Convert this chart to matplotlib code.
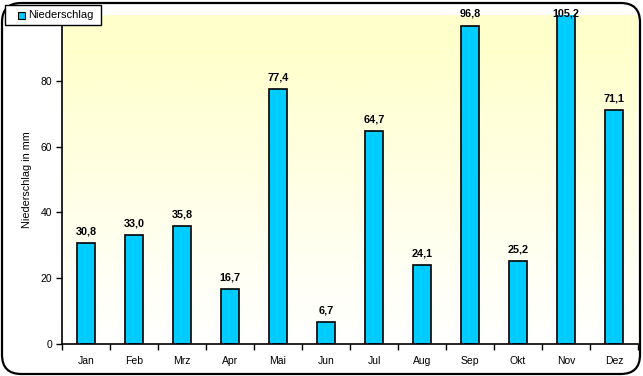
import matplotlib
matplotlib.use("Agg")
import matplotlib.pyplot as plt
import numpy as np
from matplotlib.patches import FancyBboxPatch, Rectangle

plt.rcParams['font.family'] = ['Liberation Sans', 'DejaVu Sans']

months = ["Jan", "Feb", "Mrz", "Apr", "Mai", "Jun", "Jul", "Aug", "Sep", "Okt", "Nov", "Dez"]
niederschlag = [30.8, 33.0, 35.8, 16.7, 77.4, 6.7, 64.7, 24.1, 96.8, 25.2, 105.2, 71.1]
yticks = [0, 20, 40, 60, 80]
series_name = "Niederschlag"
bar_color = '#00CCFF'

W, H = 643, 376
fig = plt.figure(figsize=(W / 100, H / 100), dpi=100)
fig.patch.set_facecolor('white')

# outer rounded border
border = FancyBboxPatch((2 / W, 2 / H), (W - 5) / W, (H - 5) / H,
                        boxstyle="round,pad=0,rounding_size=0.03",
                        transform=fig.transFigure, facecolor='none',
                        edgecolor='black', linewidth=1.6, mutation_aspect=W / H)
fig.patches.append(border)

left, right, top, bottom = 62, 638, 15, 344
ax = fig.add_axes([left / W, (H - bottom) / H, (right - left) / W, (bottom - top) / H])

x = np.arange(len(months))
ax.set_xlim(-0.5, len(months) - 0.5)
ax.set_ylim(0, 100)

# gradient background
grad = np.linspace(0, 1, 300)  # 0 bottom -> 1 top
alpha = np.clip(grad / 0.9, 0, 1) ** 1.1
top_c = np.array([1.0, 1.0, 0.8])
img = np.ones((300, 1, 3)) * (1 - alpha[:, None, None]) + top_c[None, None, :] * alpha[:, None, None]
ax.imshow(img, extent=[-0.5, len(months) - 0.5, 0, 100], origin='lower', aspect='auto', zorder=0)

for v in range(10, 100, 10):
    ax.axhline(v, color='white', lw=0.5, ls=(0, (1, 3)), alpha=0.7, zorder=0.5)

ax.bar(x, niederschlag, width=0.36, color=bar_color, edgecolor='black', linewidth=1.2, zorder=2)

for xi, v in zip(x, niederschlag):
    ax.text(xi, min(v, 96.8) + 2.0, f"{v:.1f}".replace('.', ','), ha='center', va='bottom',
            fontsize=7.8, fontweight='bold', zorder=3, clip_on=False)

ax.set_xticks(x)
ax.set_xticklabels(months, fontsize=7.5)
ax.set_xticks(np.arange(-0.5, len(months), 1), minor=True)
ax.tick_params(axis='x', which='major', length=0, pad=9)
ax.tick_params(axis='x', which='minor', length=4, direction='out', width=1)
ax.set_yticks(yticks)
ax.set_yticklabels([str(t) for t in yticks], fontsize=7.5)
ax.tick_params(axis='y', length=4, direction='out', width=1, pad=3)

for s in ['top', 'right']:
    ax.spines[s].set_visible(False)
for s in ['left', 'bottom']:
    ax.spines[s].set_linewidth(1.2)
    ax.spines[s].set_zorder(4)

ax.set_ylabel("Niederschlag in mm", fontsize=7.8, labelpad=6)

# legend box drawn manually (pixel coords from top-left)
def fx(px):
    return px / W

def fy(py):
    return 1 - py / H

fig.patches.append(Rectangle((fx(5), fy(25)), (101 - 5) / W, 20 / H, transform=fig.transFigure,
                             facecolor='white', edgecolor='black', linewidth=1.0, zorder=10))
fig.patches.append(Rectangle((fx(18), fy(18.5)), 7 / W, 7 / H, transform=fig.transFigure,
                             facecolor=bar_color, edgecolor='black', linewidth=0.8, zorder=11))
fig.text(fx(28), fy(15), series_name, ha='left', va='center', fontsize=8, zorder=12)

fig.savefig("out.png", dpi=100, facecolor='white')
